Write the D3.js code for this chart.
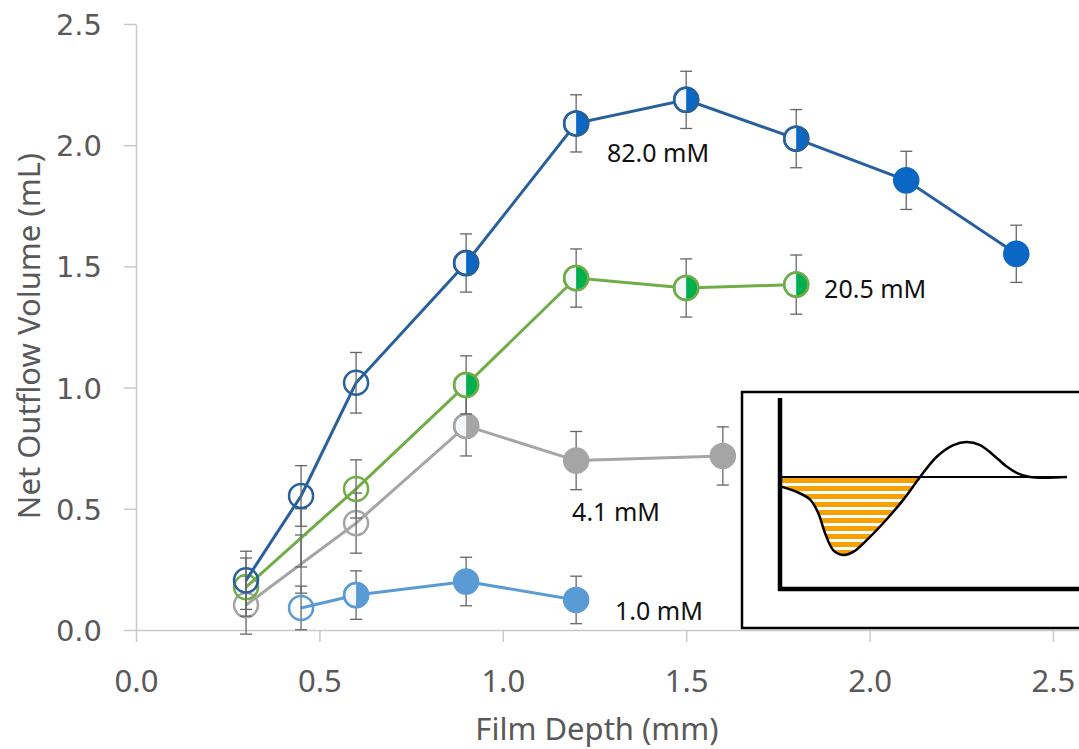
<!DOCTYPE html>
<html>
<head>
<meta charset="utf-8">
<script src="https://cdn.jsdelivr.net/npm/d3@7"></script>
<style>
  body { margin: 0; background: #fff; }
</style>
</head>
<body>
<script>
// values
const xTicks = [0, 0.5, 1.0, 1.5, 2.0, 2.5];
const yTicks = [0, 0.5, 1.0, 1.5, 2.0, 2.5];

// 82.0 mM
const depth82 = [0.3, 0.45, 0.6, 0.9, 1.2, 1.5, 1.8, 2.1, 2.4];
const vol82 = [0.205, 0.553, 1.02, 1.514, 2.09, 2.187, 2.027, 1.855, 1.552];
const err82 = [0.12, 0.125, 0.125, 0.12, 0.118, 0.118, 0.12, 0.12, 0.118];
const mark82 = ["open", "open", "open", "half", "half", "half", "half", "full", "full"];

// 20.5 mM
const depth205 = [0.3, 0.45, 0.6, 0.9, 1.2, 1.5, 1.8];
const vol205 = [0.177, 0.38, 0.582, 1.011, 1.452, 1.411, 1.425];
const err205 = [0.12, 0.12, 0.12, 0.12, 0.12, 0.12, 0.122];
const mark205 = ["open", "none", "open", "half", "half", "half", "half"];

// 4.1 mM
const depth41 = [0.3, 0.45, 0.6, 0.9, 1.2, 1.6];
const vol41 = [0.103, 0.272, 0.441, 0.842, 0.699, 0.718];
const err41 = [0.12, 0.12, 0.124, 0.124, 0.12, 0.12];
const mark41 = ["open", "none", "open", "half", "full", "full"];

// 1.0 mM
const depth10 = [0.45, 0.6, 0.9, 1.2];
const vol10 = [0.091, 0.144, 0.2, 0.124];
const err10 = [0.09, 0.1, 0.1, 0.098];
const mark10 = ["open", "half", "full", "full"];

// series labels (anchor in data units)
const labelText = ["82.0 mM", "20.5 mM", "4.1 mM", "1.0 mM"];
const labelDepth = [1.284, 1.876, 1.189, 1.306];
const labelVol = [1.93, 1.37, 0.45, 0.041];

// inset sketch: time (0-100) vs signal (baseline 0, trough -1)
const insetT = [0, 5.8, 10.5, 13.3, 15.7, 18.6, 22.1, 25.5, 30.2, 36.0, 43.0, 48.8, 54.6, 60.4, 65.1, 69.7, 74.4, 79.1, 82.6, 87.1, 100];
const insetSignal = [-0.12, -0.19, -0.29, -0.46, -0.72, -0.94, -1.0, -0.96, -0.81, -0.59, -0.29, 0.0, 0.26, 0.41, 0.45, 0.41, 0.28, 0.13, 0.05, 0.0, 0.0];

var width = 1079, height = 749;
var margin = {top: 24, right: 0, bottom: 119, left: 136};

var svg = d3.select("body").append("svg")
    .attr("width", width)
    .attr("height", height)
    .style("font-family", "'Noto Sans', sans-serif");

var x = d3.scaleLinear().domain([0, 2.571]).range([margin.left, width - margin.right]);
var y = d3.scaleLinear().domain([0, 2.5]).range([height - margin.bottom, margin.top]);

// axes
var xAxis = svg.append("g")
    .attr("transform", "translate(0," + (height - margin.bottom) + ")")
    .call(d3.axisBottom(x).tickValues(xTicks).tickFormat(d3.format(".1f"))
      .tickSizeInner(12).tickSizeOuter(0).tickPadding(28));
var yAxis = svg.append("g")
    .attr("transform", "translate(" + margin.left + ",0)")
    .call(d3.axisLeft(y).tickValues(yTicks).tickFormat(d3.format(".1f"))
      .tickSizeInner(12).tickSizeOuter(0).tickPadding(22));

[xAxis, yAxis].forEach(function(a) {
  a.selectAll("path, line").attr("stroke", "#c9c9c9").attr("stroke-width", 1.5);
  a.selectAll("text").attr("fill", "#595959");
});
xAxis.selectAll("text").style("font-size", "31px").style("font-family", "'Noto Sans', sans-serif");
yAxis.selectAll("text").style("font-size", "29px").style("font-family", "'DejaVu Sans', sans-serif")
    .attr("dy", "0.36em");

svg.append("text")
    .attr("x", 597).attr("y", 740)
    .attr("text-anchor", "middle")
    .attr("fill", "#595959")
    .style("font-size", "31px")
    .text("Film Depth (mm)");

svg.append("text")
    .attr("transform", "translate(40," + 336 + ") rotate(-90)")
    .attr("text-anchor", "middle")
    .attr("fill", "#595959")
    .style("font-size", "31px")
    .text("Net Outflow Volume (mL)");

// series
var series = [
  {depth: depth10, vol: vol10, err: err10, mark: mark10, line: "#5b9bd5", stroke: "#5b9bd5", fill: "#5b9bd5"},
  {depth: depth41, vol: vol41, err: err41, mark: mark41, line: "#a5a5a5", stroke: "#a5a5a5", fill: "#a5a5a5"},
  {depth: depth205, vol: vol205, err: err205, mark: mark205, line: "#70ad47", stroke: "#70ad47", fill: "#00b050"},
  {depth: depth82, vol: vol82, err: err82, mark: mark82, line: "#28609c", stroke: "#28609c", fill: "#0b67c4"}
];

var line = d3.line()
    .x(function(d) { return x(d.x); })
    .y(function(d) { return y(d.y); });

var r = 12;
var halfArc = d3.arc().innerRadius(0).outerRadius(r).startAngle(0).endAngle(Math.PI);

series.forEach(function(s) {
  var pts = s.depth.map(function(d, i) {
    return {x: d, y: s.vol[i], e: s.err[i], m: s.mark[i]};
  });

  svg.append("path")
      .datum(pts)
      .attr("fill", "none")
      .attr("stroke", s.line)
      .attr("stroke-width", 3)
      .attr("d", line);

  // error bars
  var eb = svg.append("g").attr("stroke", "#666").attr("stroke-width", 1.3);
  pts.forEach(function(p) {
    eb.append("line")
      .attr("x1", x(p.x)).attr("x2", x(p.x))
      .attr("y1", y(p.y - p.e)).attr("y2", y(p.y + p.e));
    [p.y - p.e, p.y + p.e].forEach(function(v) {
      eb.append("line")
        .attr("x1", x(p.x) - 6).attr("x2", x(p.x) + 6)
        .attr("y1", y(v)).attr("y2", y(v));
    });
  });

  // markers
  var mk = svg.append("g").selectAll("g")
    .data(pts.filter(function(p) { return p.m != "none"; }))
    .enter().append("g")
      .attr("transform", function(p) { return "translate(" + x(p.x) + "," + y(p.y) + ")"; });

  mk.append("circle")
      .attr("r", r)
      .attr("fill", function(p) {
        if (p.m == "open") return "none";
        if (p.m == "full") return s.fill;
        return "#f3f7fc";
      })
      .attr("stroke", function(p) { return p.m == "full" ? s.fill : s.stroke; })
      .attr("stroke-width", 2.5);

  mk.filter(function(p) { return p.m == "half"; })
    .append("path")
      .attr("d", halfArc)
      .attr("fill", s.fill);

  mk.filter(function(p) { return p.m == "half"; })
    .append("circle")
      .attr("r", r)
      .attr("fill", "none")
      .attr("stroke", s.stroke)
      .attr("stroke-width", 2.5);
});

// labels
svg.append("g").selectAll("text")
  .data(labelText)
  .enter().append("text")
    .attr("x", function(d, i) { return x(labelDepth[i]); })
    .attr("y", function(d, i) { return y(labelVol[i]); })
    .attr("fill", "#111")
    .style("font-size", "25px")
    .text(function(d) { return d; });

// inset
var inset = svg.append("g");
inset.append("rect")
    .attr("x", 742).attr("y", 392)
    .attr("width", 345).attr("height", 236)
    .attr("fill", "#fff")
    .attr("stroke", "#000")
    .attr("stroke-width", 2.5);

var ix = d3.scaleLinear().domain([0, 100]).range([780, 1067]);
var iy = d3.scaleLinear().domain([-1, 1]).range([555, 399]);

var defs = svg.append("defs");
var pat = defs.append("pattern")
    .attr("id", "stripes")
    .attr("patternUnits", "userSpaceOnUse")
    .attr("x", 0).attr("y", iy(0))
    .attr("width", 12).attr("height", 8);
pat.append("rect").attr("width", 12).attr("height", 8).attr("fill", "#fff");
pat.append("rect").attr("y", 1).attr("width", 12).attr("height", 5).attr("fill", "#f7a000");

var ipts = insetT.map(function(t, i) { return {t: t, v: insetSignal[i]}; });

inset.append("path")
    .datum(ipts.filter(function(p) { return p.t <= 48.8; }))
    .attr("fill", "url(#stripes)")
    .attr("d", d3.area()
      .curve(d3.curveCatmullRom)
      .x(function(p) { return ix(p.t); })
      .y0(iy(0))
      .y1(function(p) { return iy(p.v); }));

inset.append("line")
    .attr("x1", ix(0)).attr("x2", ix(100))
    .attr("y1", iy(0)).attr("y2", iy(0))
    .attr("stroke", "#000").attr("stroke-width", 2);

inset.append("path")
    .datum(ipts)
    .attr("fill", "none")
    .attr("stroke", "#000")
    .attr("stroke-width", 2.5)
    .attr("d", d3.line()
      .curve(d3.curveCatmullRom)
      .x(function(p) { return ix(p.t); })
      .y(function(p) { return iy(p.v); }));

inset.append("line")
    .attr("x1", ix(0)).attr("x2", ix(0))
    .attr("y1", 398).attr("y2", 591)
    .attr("stroke", "#000").attr("stroke-width", 4.5);
inset.append("line")
    .attr("x1", ix(0) - 2).attr("x2", 1085)
    .attr("y1", 589).attr("y2", 589)
    .attr("stroke", "#000").attr("stroke-width", 4.5);
</script>
</body>
</html>
